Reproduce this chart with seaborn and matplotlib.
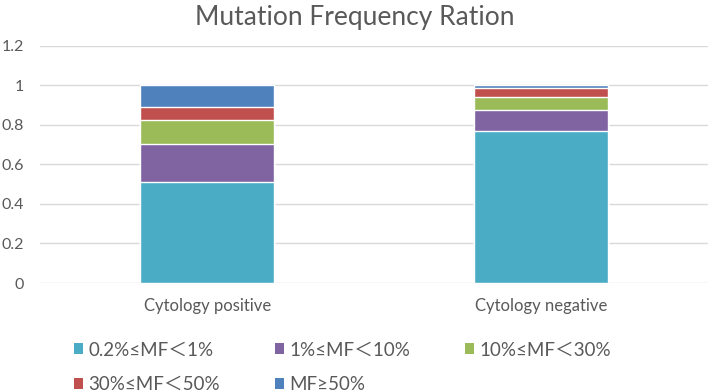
import numpy as np
import pandas as pd
import matplotlib
matplotlib.use("Agg")
import matplotlib.pyplot as plt
import seaborn as sns
from matplotlib.patches import Patch

# ------------------------------------------------------------
# Data
# ------------------------------------------------------------

groups = ["Cytology positive", "Cytology negative"]

mf_labels = [
    "0.2%≤MF＜1%",
    "1%≤MF＜10%",
    "10%≤MF＜30%",
    "30%≤MF＜50%",
    "MF≥50%",
]

mf_low = [0.512, 0.769]
mf_1_10 = [0.192, 0.106]
mf_10_30 = [0.121, 0.064]
mf_30_50 = [0.068, 0.046]
mf_high = [0.107, 0.015]

colors = ["#4BACC6", "#8064A2", "#9BBB59", "#C0504D", "#4F81BD"]

# ------------------------------------------------------------
# Stacked layout via cumulative totals
# ------------------------------------------------------------

layers = [mf_low, mf_1_10, mf_10_30, mf_30_50, mf_high]
cum = np.cumsum(np.array(layers), axis=0)

sns.set_style("white")
plt.rcParams["font.family"] = ["Lato", "Noto Sans CJK SC", "DejaVu Sans"]

text_col = "#595959"

fig = plt.figure(figsize=(7.09, 3.92), dpi=100)
ax = fig.add_axes([0.057, 0.278, 0.941, 0.605])

# draw from top layer down so each lower layer covers the one above
for i in range(len(layers) - 1, -1, -1):
    df = pd.DataFrame({"group": groups, "value": cum[i]})
    sns.barplot(
        data=df,
        x="group",
        y="value",
        color=colors[i],
        saturation=1,
        width=0.4,
        ax=ax,
        zorder=3,
    )

ax.set_ylim(0, 1.2)
ax.set_xlim(-0.5, 1.5)
ax.set_yticks(np.arange(0, 1.21, 0.2))
ax.set_yticklabels(["0", "0.2", "0.4", "0.6", "0.8", "1", "1.2"])
ax.yaxis.grid(True, color="#D9D9D9", linewidth=1)
ax.set_axisbelow(True)

for s in ax.spines.values():
    s.set_visible(False)

ax.tick_params(axis="both", length=0, colors=text_col)
ax.tick_params(axis="x", pad=11, labelsize=12)
ax.tick_params(axis="y", pad=12, labelsize=11.5)
ax.set_xlabel("")
ax.set_ylabel("")

fig.text(0.5, 0.955, "Mutation Frequency Ration", ha="center", va="center",
         fontsize=19, color=text_col)

# legend is filled column by column, so reorder to read row by row
order = [0, 3, 1, 4, 2]
handles = [Patch(facecolor=colors[k], edgecolor="none") for k in order]
labels = [mf_labels[k] for k in order]

fig.legend(
    handles,
    labels,
    loc="upper left",
    bbox_to_anchor=(0.08, 0.172),
    ncol=3,
    frameon=False,
    fontsize=13.5,
    handlelength=0.5,
    handleheight=0.5,
    handletextpad=0.3,
    columnspacing=2.9,
    labelspacing=0.95,
    labelcolor=text_col,
)

plt.savefig("out.png", dpi=100)
